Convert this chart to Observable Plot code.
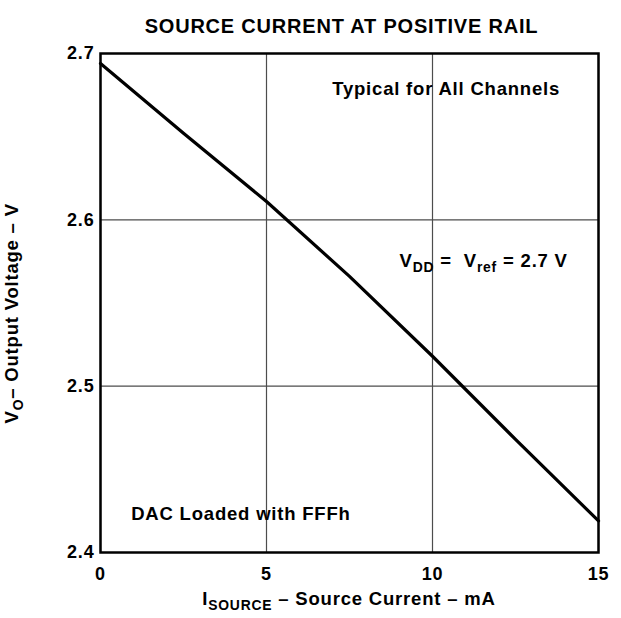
<!DOCTYPE html>
<html><head><meta charset="utf-8">
<script src="https://cdn.jsdelivr.net/npm/d3@7"></script>
<script src="https://cdn.jsdelivr.net/npm/@observablehq/plot@0.6"></script>
<style>
body{margin:0;background:#fff;}
svg text{letter-spacing:0.8px;}
</style></head><body><div id="chart"></div>
<script>
// Data
const current = [0, 2.5, 5, 7.5, 10, 12.5, 15];            // mA
const voltage = [2.694, 2.652, 2.611, 2.566, 2.518, 2.468, 2.419]; // V
const xTicks = [0, 5, 10, 15];
const yTicks = [2.4, 2.5, 2.6, 2.7];
const titleText = "SOURCE CURRENT AT POSITIVE RAIL";
const xLabel = "I_{SOURCE} – Source Current – mA";
const yLabel = "V_{O}– Output Voltage – V";
const noteTypical = "Typical for All Channels";
const noteSupply = "V_{DD} =  V_{ref} = 2.7 V";
const noteDac = "DAC Loaded with FFFh";

const data = current.map((c, i) => ({current: c, voltage: voltage[i]}));
const font = "'Liberation Sans', Arial, Helvetica, sans-serif";
const txt = d => d;

const chart = Plot.plot({
  width: 621, height: 618,
  marginLeft: 100, marginRight: 23, marginTop: 53, marginBottom: 66,
  style: {fontFamily: font, fontWeight: "bold", color: "black", background: "white", overflow: "visible"},
  x: {domain: [0, 15]},
  y: {domain: [2.4, 2.7]},
  marks: [
    Plot.gridX(xTicks, {stroke: "#4d4d4d", strokeOpacity: 1, strokeWidth: 1.2}),
    Plot.gridY(yTicks, {stroke: "#4d4d4d", strokeOpacity: 1, strokeWidth: 1.2}),
    Plot.line(data, {x: "current", y: "voltage", stroke: "black", strokeWidth: 3.2}),
    Plot.frame({stroke: "black", strokeWidth: 2.5}),
    Plot.axisX(xTicks, {tickSize: 0, tickPadding: 15, fontSize: 18, fontWeight: "bold", label: null}),
    Plot.axisY(yTicks, {tickSize: 0, tickPadding: 6, fontSize: 18, fontWeight: "bold", label: null, tickFormat: d3.format(".1f")}),
    Plot.text([titleText], {text: txt, frameAnchor: "top", dx: -8, dy: -34.3, fontSize: 20, fontWeight: "bold"}),
    Plot.text([noteTypical], {text: txt, frameAnchor: "top-left", textAnchor: "start", dx: 231.7, dy: 28.7, fontSize: 18.5, fontWeight: "bold"}),
    Plot.text([noteSupply], {text: txt, frameAnchor: "top-left", textAnchor: "start", dx: 299, dy: 200.3, fontSize: 18.5, fontWeight: "bold"}),
    Plot.text([noteDac], {text: txt, frameAnchor: "bottom-left", textAnchor: "start", dx: 30.7, dy: -33, fontSize: 18.5, fontWeight: "bold"}),
    Plot.text([xLabel], {text: txt, frameAnchor: "bottom-left", textAnchor: "start", dx: 101.7, dy: 52, fontSize: 18.5, fontWeight: "bold"}),
    Plot.text([yLabel], {text: txt, frameAnchor: "bottom-left", textAnchor: "start", rotate: -90, dx: -83, dy: -129, fontSize: 18.5, fontWeight: "bold"})
  ]
});

// Turn "_{...}" markers into real subscript tspans
function subscriptify(el) {
  const s = el.textContent;
  if (!s.includes("_{")) return;
  const base = parseFloat(el.getAttribute("font-size") || getComputedStyle(el).fontSize) || 18.5;
  const subSize = (base * 0.75).toFixed(1);
  const shift = +(base * 0.28).toFixed(1);
  const parts = s.split(/(_\{[^}]*\})/).filter(p => p.length);
  el.textContent = "";
  let shifted = false;
  for (const p of parts) {
    const ts = document.createElementNS("http://www.w3.org/2000/svg", "tspan");
    if (p.startsWith("_{")) {
      ts.textContent = p.slice(2, -1);
      ts.setAttribute("font-size", subSize);
      ts.setAttribute("dy", shift);
      shifted = true;
    } else {
      ts.textContent = p;
      if (shifted) { ts.setAttribute("dy", -shift); shifted = false; }
    }
    el.appendChild(ts);
  }
}
document.getElementById("chart").appendChild(chart);
d3.select(chart).selectAll("text").each(function() { subscriptify(this); });
</script></body></html>
